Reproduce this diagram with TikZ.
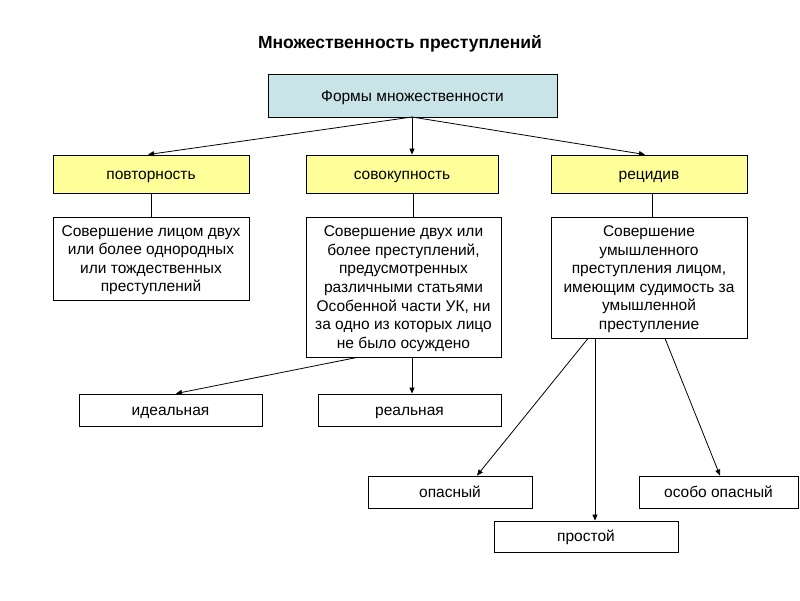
\documentclass[tikz,border=0pt]{standalone}
\usepackage{fontspec}
\setmainfont{Liberation Sans}
\usetikzlibrary{arrows.meta}
\definecolor{topfill}{RGB}{200,228,232}
\definecolor{yelfill}{RGB}{255,255,153}
\begin{document}
\begin{tikzpicture}[x=1pt,y=-1pt,
  box/.style={draw=black,line width=0.9pt,inner sep=0pt,align=center,
    font=\fontsize{15.5}{18.6}\selectfont},
  multibox/.style={box,text depth=0pt},
  onebox/.style={box,text height=14pt,text depth=3.3pt},
  topbox/.style={onebox,fill=topfill,text height=15pt},
  catbox/.style={onebox,fill=yelfill},
  conn/.style={line width=0.8pt},
  arr/.style={conn,-{Triangle[width=5pt,length=6pt]}}]
\useasboundingbox (0,0) rectangle (800,600);
\node[font=\bfseries\fontsize{17.5}{20}\selectfont] (title) at (400,44) {Множественность преступлений};
\node[topbox,minimum width=289,minimum height=43] (forms) at (412.5,95.5) {Формы множественности};
\node[catbox,minimum width=196,minimum height=38] (povt) at (151,174) {повторность};
\node[catbox,minimum width=192,minimum height=38] (sovok) at (402,174) {совокупность};
\node[catbox,minimum width=196,minimum height=38] (recid) at (649,174) {рецидив};
\node[multibox,minimum width=196,minimum height=83] (d1) at (151,258.5) {Совершение лицом двух\\или более однородных\\или тождественных\\преступлений};
\node[multibox,minimum width=195,minimum height=140] (d2) at (403.5,287) {Совершение двух или\\более преступлений,\\предусмотренных\\различными статьями\\Особенной части УК, ни\\за одно из которых лицо\\не было осуждено};
\node[multibox,minimum width=196,minimum height=121] (d3) at (649,277.5) {Совершение\\умышленного\\преступления лицом,\\имеющим судимость за\\умышленной\\преступление};
\node[onebox,minimum width=183,minimum height=32] (ideal) at (170.5,410) {идеальная};
\node[onebox,minimum width=183,minimum height=32] (real) at (409.5,410) {реальная};
\node[onebox,minimum width=164,minimum height=32] (opas) at (450,492) {опасный};
\node[onebox,minimum width=159,minimum height=32] (osobo) at (718.5,492) {особо опасный};
\node[onebox,minimum width=184,minimum height=31] (prost) at (586,536.5) {простой};
% connectors
\coordinate (fs) at (412,117);
\draw[arr] (fs) -- (povt.north -| 148,0);
\draw[arr] (fs) -- (sovok.north -| 412,0);
\draw[arr] (fs) -- (recid.north -| 645,0);
\draw[conn] (povt.south) -- (d1.north);
\draw[conn] (sovok.south -| 413,0) -- (d2.north -| 413,0);
\draw[conn] (recid.south -| 652,0) -- (d3.north -| 652,0);
\draw[arr] (d2.south -| 357,0) -- (ideal.north -| 176,0);
\draw[arr] (d2.south -| 412,0) -- (real.north -| 412,0);
\draw[arr] (d3.south -| 588,0) -- (opas.north -| 477,0);
\draw[arr] (d3.south -| 595,0) -- (prost.north -| 595,0);
\draw[arr] (d3.south -| 665,0) -- (osobo.north -| 720,0);
\end{tikzpicture}
\end{document}
